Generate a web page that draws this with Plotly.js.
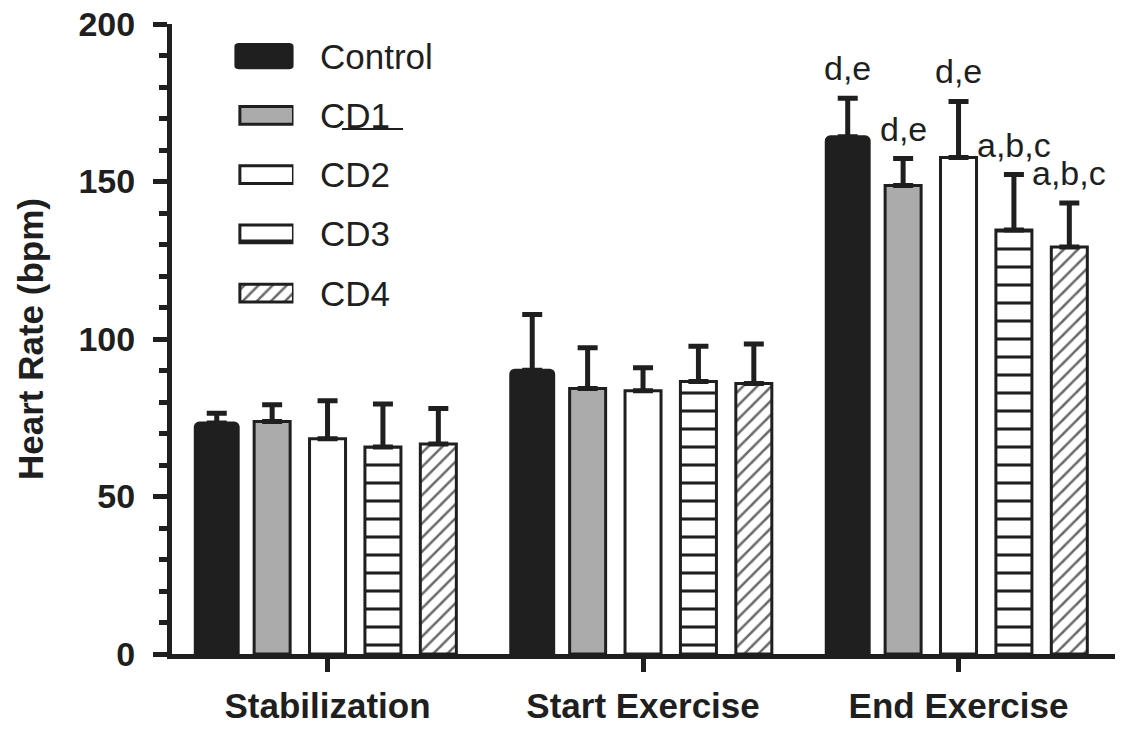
<!DOCTYPE html>
<html>
<head>
<meta charset="utf-8">
<script src="https://cdn.plot.ly/plotly-3.0.1.min.js"></script>
<style>html,body{margin:0;padding:0;background:#fff;}#chart{width:1123px;height:729px;}</style>
</head>
<body>
<div id="chart"></div>
<script>
// ---- data ----
const categories = ['Stabilization', 'Start Exercise', 'End Exercise'];
const seriesNames = ['Control', 'CD1', 'CD2', 'CD3', 'CD4'];

const controlHR = [73.3, 90.1, 164.2];
const cd1HR     = [73.8, 84.3, 148.7];
const cd2HR     = [68.3, 83.6, 157.6];
const cd3HR     = [65.7, 86.5, 134.6];
const cd4HR     = [66.7, 85.9, 129.2];

const controlSD = [3.1, 17.7, 12.2];
const cd1SD     = [5.3, 12.9, 8.6];
const cd2SD     = [12.1, 7.3, 17.8];
const cd3SD     = [13.7, 11.2, 17.6];
const cd4SD     = [11.2, 12.5, 14.0];
const noLowerErr = [0, 0, 0];

const controlSig = ['', '', 'd,e'];
const cd1Sig     = ['', '', 'd,e'];
const cd2Sig     = ['', '', 'd,e'];
const cd3Sig     = ['', '', 'a,b,c'];
const cd4Sig     = ['', '', 'a,b,c'];

const yTickVals = [0, 50, 100, 150, 200];

// ---- styles ----
const FONT = 'Liberation Sans, Arial, Helvetica, sans-serif';
const INK = '#1f1f1f';
const values = [controlHR, cd1HR, cd2HR, cd3HR, cd4HR];
const errors = [controlSD, cd1SD, cd2SD, cd3SD, cd4SD];
const sigs = [controlSig, cd1Sig, cd2Sig, cd3Sig, cd4Sig];

const markers = [
  {color: INK, line: {color: INK, width: 3}, cornerradius: 4},
  {color: '#ababab', line: {color: INK, width: 3}},
  {color: '#ffffff', line: {color: INK, width: 3}},
  {color: '#ffffff', line: {color: INK, width: 3},
   pattern: {shape: '-', fgcolor: INK, bgcolor: '#ffffff', size: 18, solidity: 0.17}},
  {color: '#ffffff', line: {color: INK, width: 3},
   pattern: {shape: '/', fgcolor: '#6a6a6a', bgcolor: '#ffffff', size: 10, solidity: 0.25}}
];

const bargap = 0.122;
const bargroupgap = 0.35;
const slot = (1 - bargap) / seriesNames.length;

const traces = [];
seriesNames.forEach((name, i) => {
  const t = {
    type: 'bar', name: name, x: categories, y: values[i],
    marker: markers[i],
    error_y: {type: 'data', symmetric: false, array: errors[i], arrayminus: noLowerErr,
              color: INK, thickness: 5, width: 10},
    showlegend: false, hoverinfo: 'skip'
  };
  if (i === 0) t.width = 0.136;
  traces.push(t);
});

// legend swatches drawn as bars on a hidden inset subplot
seriesNames.forEach((name, i) => {
  traces.push({
    type: 'bar', orientation: 'h', x: [i === 0 ? 1.1 : 1], y: [name],
    base: i === 0 ? -0.1 : 0,
    width: i === 0 ? 0.39 : 0.3, offset: i === 0 ? -0.195 : -0.15,
    xaxis: 'x2', yaxis: 'y2',
    marker: i === 3
      ? {color: '#ffffff', line: {color: INK, width: 3}}
      : Object.assign({}, markers[i], {cornerradius: i === 0 ? 4 : 0}),
    showlegend: false, hoverinfo: 'skip'
  });
});

const annotations = [];
sigs.forEach((arr, i) => {
  arr.forEach((txt, c) => {
    if (!txt) return;
    annotations.push({
      xref: 'x', yref: 'y', x: c + (i - 2) * slot, y: values[i][c] + errors[i][c],
      text: txt, showarrow: false, yanchor: 'middle', xanchor: 'center', yshift: 30,
      font: {family: FONT, size: 34, color: INK}
    });
  });
});
seriesNames.forEach((name) => {
  annotations.push({
    xref: 'paper', yref: 'y2', x: 0.1548, y: name, text: name, showarrow: false,
    xanchor: 'left', yanchor: 'middle', font: {family: FONT, size: 35, color: INK}
  });
});

const layout = {
  width: 1123, height: 729,
  margin: {l: 172, r: 8, t: 24, b: 75, pad: 0},
  paper_bgcolor: '#ffffff', plot_bgcolor: 'rgba(0,0,0,0)',
  barmode: 'group', bargap: bargap, bargroupgap: bargroupgap,
  showlegend: false,
  font: {family: FONT, color: INK},
  xaxis: {
    type: 'category', range: [-0.493, 2.496], showgrid: false, zeroline: false,
    showline: true, linecolor: INK, linewidth: 5,
    ticks: 'outside', ticklen: 13, tickwidth: 5, tickcolor: INK,
    ticklabelstandoff: 4,
    tickfont: {family: FONT, size: 35, weight: 'bold', color: INK}
  },
  yaxis: {
    range: [0, 200], tickvals: yTickVals, showgrid: false, zeroline: false,
    showline: true, linecolor: INK, linewidth: 5,
    ticks: 'outside', ticklen: 14, tickwidth: 5, tickcolor: INK,
    minor: {dtick: 10, ticks: 'outside', ticklen: 8, tickwidth: 5, tickcolor: INK, showgrid: false},
    ticklabelstandoff: 11,
    tickfont: {family: FONT, size: 34, weight: 'bold', color: INK},
    title: {text: 'Heart Rate (bpm)', standoff: 26,
            font: {family: FONT, size: 35, weight: 'bold', color: INK}}
  },
  xaxis2: {domain: [0.0663, 0.1288], range: [-0.1, 1], visible: false, fixedrange: true, anchor: 'y2'},
  yaxis2: {domain: [0.526, 0.996], type: 'category', categoryarray: seriesNames,
           range: [4.5, -0.5], visible: false, fixedrange: true, anchor: 'x2'},
  shapes: [
    {type: 'line', xref: 'paper', yref: 'paper', x0: 0.1803, x1: 0.245, y0: 0.8333, y1: 0.8333,
     line: {color: INK, width: 2}},
    {type: 'line', xref: 'paper', yref: 'paper', x0: 0.0721, x1: 0.1283, y0: 0.656, y1: 0.656,
     line: {color: INK, width: 2.5}}
  ],
  annotations: annotations
};

Plotly.newPlot('chart', traces, layout, {displayModeBar: false, staticPlot: true});
</script>
</body>
</html>
